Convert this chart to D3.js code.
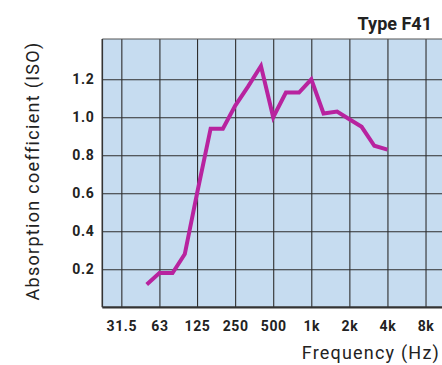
<!DOCTYPE html>
<html>
<head>
<meta charset="utf-8">
<script src="https://cdn.jsdelivr.net/npm/d3@7"></script>
<style>
  body { margin: 0; background: #fff; }
  svg { display: block; font-family: Roboto, sans-serif; }
</style>
</head>
<body>
<div id="chart"></div>
<script>
// third-octave bands and measured absorption
var freqs = [50, 63, 80, 100, 125, 160, 200, 250, 315, 400, 500, 630, 800, 1000, 1250, 1600, 2000, 2500, 3150, 4000];
var alpha = [0.12, 0.18, 0.18, 0.28, 0.60, 0.94, 0.94, 1.06, 1.16, 1.27, 1.00, 1.13, 1.13, 1.20, 1.02, 1.03, 0.99, 0.95, 0.85, 0.83];

var xTicks = [31.5, 63, 125, 250, 500, 1000, 2000, 4000, 8000];
var xLabels = ['31.5', '63', '125', '250', '500', '1k', '2k', '4k', '8k'];
var yTicks = [0.2, 0.4, 0.6, 0.8, 1.0, 1.2];

var title = 'Type F41';
var xTitle = 'Frequency (Hz)';
var yTitle = 'Absorption coefficient (ISO)';

const layout = {
    width: 442,
    height: 365,
    margin: { top: 39, right: 0, bottom: 57.7, left: 102.3 }
}
var plotW = 445 - layout.margin.left;
var plotH = layout.height - layout.margin.top - layout.margin.bottom;

var svg = d3.select('#chart').append('svg')
    .attr('width', layout.width)
    .attr('height', layout.height);

var xScale = d3.scaleLog().base(2)
    .domain([31.5 / Math.SQRT2, 31.5 * Math.pow(2, 8.5)])
    .range([0, plotW]);
var yScale = d3.scaleLinear().domain([0, 1.412]).range([plotH, 0]);

var g = svg.append('g')
    .attr('transform', `translate(${layout.margin.left},${layout.margin.top})`);

g.append('rect')
    .attr('width', plotW)
    .attr('height', plotH)
    .attr('fill', '#c6dcf0');

// grid
var xAxis = d3.axisBottom(xScale).tickValues(xTicks).tickSize(-plotH)
    .tickFormat(function(d, i) { return xLabels[i]; });
var yAxis = d3.axisLeft(yScale).tickValues(yTicks).tickSize(-plotW)
    .tickFormat(d3.format('.1f'));

const customX = function(gx) {
    gx.call(xAxis);
    gx.select('.domain').remove();
    gx.selectAll('.tick line').attr('stroke', '#2e2e2e').attr('stroke-width', 1.1);
    gx.selectAll('.tick text')
        .attr('y', 14).attr('dy', '0.71em')
        .attr('fill', '#222')
        .attr('font-size', 14).attr('font-weight', 'bold')
        .style('letter-spacing', '0.6px');
}
const customY = function(gy) {
    gy.call(yAxis);
    gy.select('.domain').remove();
    gy.selectAll('.tick line').attr('stroke', '#2e2e2e').attr('stroke-width', 1.1);
    gy.selectAll('.tick text')
        .attr('x', -8)
        .attr('fill', '#222')
        .attr('font-size', 14).attr('font-weight', 'bold')
        .style('letter-spacing', '0.6px');
}

g.append('g').attr('transform', `translate(0,${plotH})`).call(customX).attr('font-family', null);
g.append('g').call(customY).attr('font-family', null);

// frame
g.append('line').attr('x1', 0).attr('x2', plotW).attr('y1', 0).attr('y2', 0)
    .attr('stroke', '#555').attr('stroke-width', 1);
g.append('line').attr('x1', 0).attr('x2', 0).attr('y1', 0).attr('y2', plotH)
    .attr('stroke', '#333').attr('stroke-width', 1.6);
g.append('line').attr('x1', 0).attr('x2', plotW).attr('y1', plotH).attr('y2', plotH)
    .attr('stroke', '#333').attr('stroke-width', 2.2);

var line = d3.line()
    .x(function(d, i) { return xScale(freqs[i]); })
    .y(function(d) { return yScale(d); });

g.append('path')
    .datum(alpha)
    .attr('d', line)
    .attr('fill', 'none')
    .attr('stroke', '#b8239f')
    .attr('stroke-width', 4)
    .attr('stroke-linejoin', 'miter');

// texts
svg.append('text')
    .attr('x', 432).attr('y', 30)
    .attr('text-anchor', 'end')
    .attr('font-size', 18).attr('font-weight', 'bold')
    .attr('fill', '#222')
    .text(title);

svg.append('text')
    .attr('x', 440).attr('y', 359)
    .attr('text-anchor', 'end')
    .attr('font-size', 18)
    .attr('fill', '#222')
    .style('letter-spacing', '1.2px')
    .text(xTitle);

svg.append('text')
    .attr('transform', 'translate(39,171) rotate(-90)')
    .attr('text-anchor', 'middle')
    .attr('font-size', 18)
    .attr('fill', '#222')
    .style('letter-spacing', '1.3px')
    .text(yTitle);
</script>
</body>
</html>
